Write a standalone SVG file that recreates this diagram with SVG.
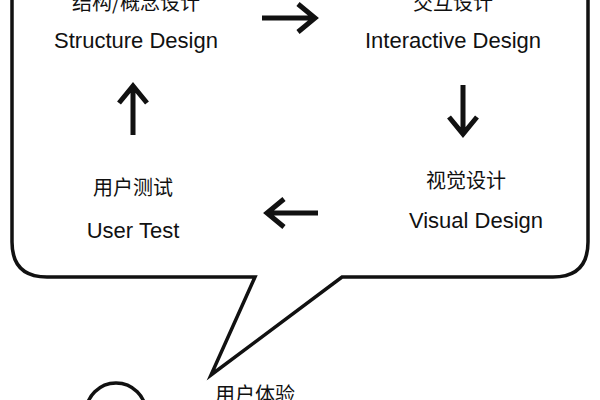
<svg xmlns="http://www.w3.org/2000/svg" width="600" height="400" viewBox="0 0 600 400">
<style>
.en{font-family:"Liberation Sans","Noto Sans CJK SC",sans-serif;font-size:22px;fill:#111;text-anchor:middle}
.zh{font-family:"Noto Sans CJK SC",sans-serif;font-size:20px;fill:#111;text-anchor:middle}
.ar{fill:none;stroke:#111;stroke-width:5}
</style>
<rect width="600" height="400" fill="#fff"/>
<g id="bubble">
<path d="M12,-20 L12,242 Q12,277 47,277 L255,277 L211,375 L342,277 L553,277 Q588,277 588,242 L588,-20" fill="#fff" stroke="#111" stroke-width="3.5" stroke-linejoin="miter"/>
</g>
<g id="structure"><text class="zh" x="136" y="10">结构/概念设计</text><text class="en" x="136" y="48">Structure Design</text></g>
<g id="interactive"><text class="zh" x="453" y="10">交互设计</text><text class="en" x="453" y="48">Interactive Design</text></g>
<g id="visual"><text class="zh" x="466" y="188">视觉设计</text><text class="en" x="476" y="228">Visual Design</text></g>
<g id="usertest"><text class="zh" x="133" y="195">用户测试</text><text class="en" x="133" y="238">User Test</text></g>
<g id="ux"><circle cx="116" cy="413" r="30" fill="#fff" stroke="#111" stroke-width="3.5"/><text class="zh" x="255" y="402">用户体验</text></g>
<g id="connectors">
<path class="ar" d="M262,18 H314 M298,4 L315,18 L298,32"/>
<path class="ar" d="M463,85 V133 M449,117 L463,134 L477,117"/>
<path class="ar" d="M318,213 H268 M284,199 L267,213 L284,227"/>
<path class="ar" d="M133,135 V87 M119,103 L133,86 L147,103"/>
</g>
</svg>
